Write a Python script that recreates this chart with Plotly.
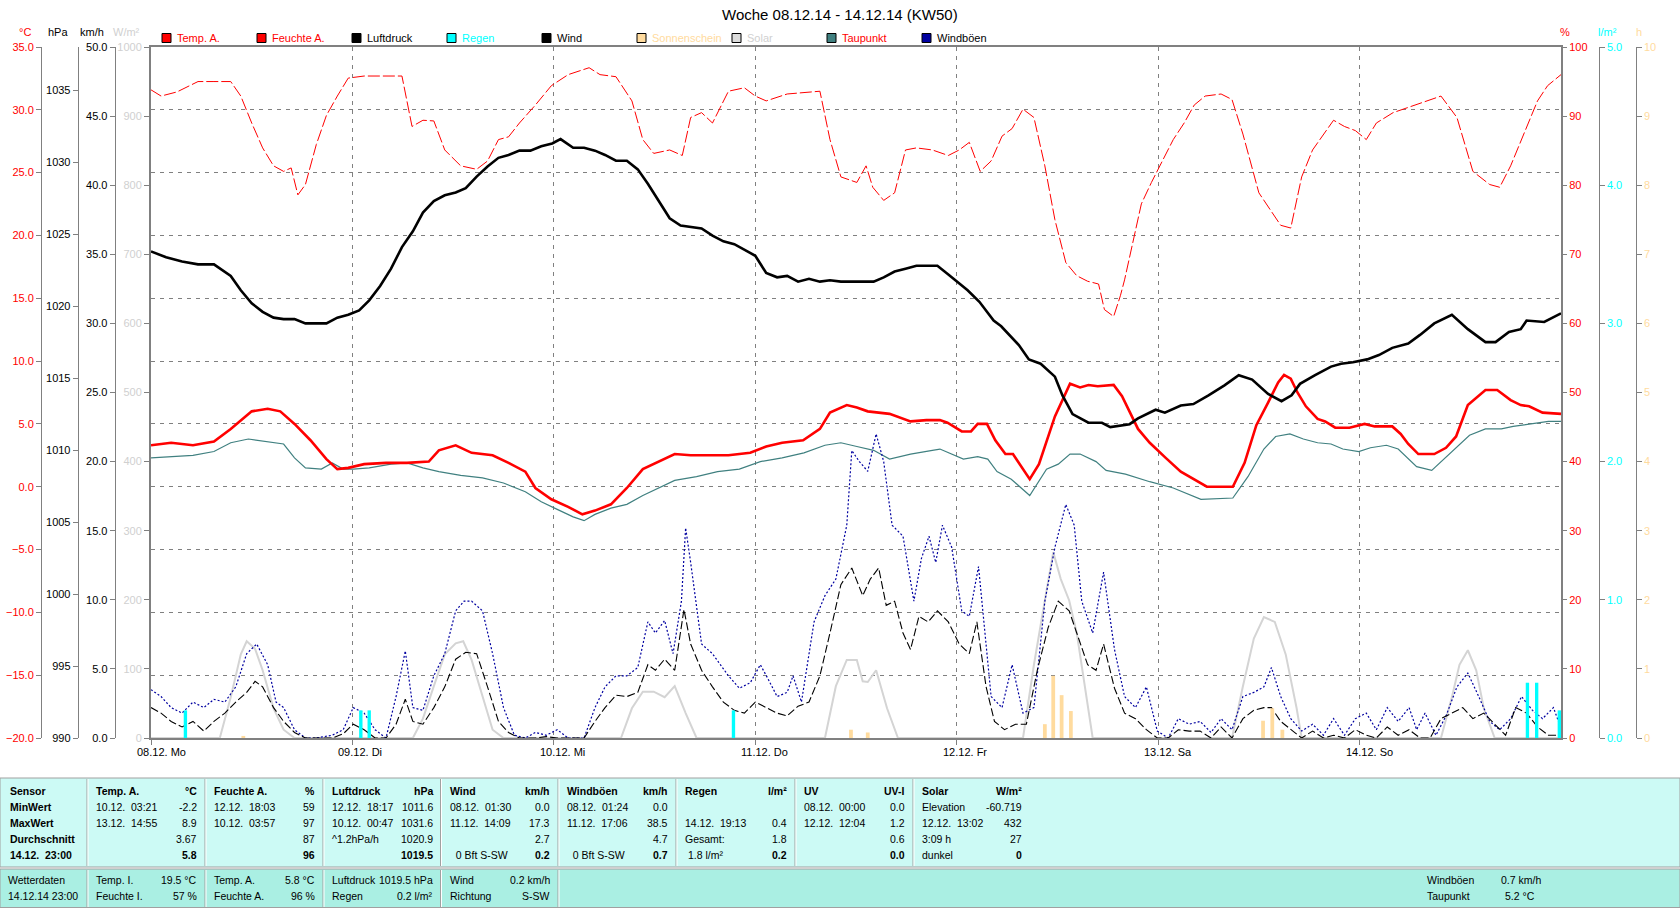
import plotly.graph_objects as go

W, H = 1680, 909

# ---------------- data (x = hours since 08.12.14 00:00) ----------------
TEMP_H = [0, 2.4, 5.0, 7.5, 9.5, 12.0, 13.9, 15.4, 17.1, 19.0, 20.9, 22.2, 23.5, 25.4, 28.0, 30.5,
          33.1, 34.3, 36.3, 38.2, 40.7, 42.6, 44.6, 45.8, 47.7, 49.7, 51.4, 52.9, 54.8, 56.7, 58.6,
          60.5, 62.4, 64.3, 66.3, 68.8, 71.4, 73.3, 75.2, 77.7, 79.7, 80.9, 82.9, 84.1, 85.4, 88.0,
          90.5, 92.4, 94.0, 94.9, 96.6, 97.7, 98.5, 99.6, 100.6, 101.8, 102.7, 104.7, 105.8, 107.7,
          109.5, 110.7, 111.7, 112.8, 114.7, 115.7, 117.6, 119.0, 120.9, 122.7, 125.8, 128.9, 130.3,
          131.7, 133.1, 134.3, 135.0, 135.8, 136.6, 137.6, 139.0, 139.9, 141.1, 142.8, 144.6, 145.8,
          147.9, 148.9, 149.8, 151.0, 152.9, 154.3, 155.5, 156.9, 159.0, 160.4, 162.0, 163.2, 164.2,
          165.8, 168.0]
TEMP_C = [3.3, 3.5, 3.3, 3.6, 4.6, 6.0, 6.2, 6.0, 5.0, 3.7, 2.2, 1.4, 1.5, 1.8, 1.9, 1.9,
          2.0, 2.9, 3.3, 2.7, 2.5, 1.9, 1.2, -0.1, -1.0, -1.6, -2.2, -1.9, -1.4, -0.1, 1.4,
          2.0, 2.6, 2.5, 2.5, 2.5, 2.7, 3.2, 3.5, 3.7, 4.6, 5.9, 6.5, 6.3, 6.0, 5.8,
          5.2, 5.3, 5.3, 5.1, 4.4, 4.4, 5.0, 5.0, 3.7, 2.6, 2.6, 0.6, 1.8, 5.6,
          8.2, 7.9, 8.1, 8.0, 8.1, 7.2, 4.6, 3.5, 2.3, 1.2, 0.0, 0.0, 1.9,
          4.9, 6.7, 8.3, 8.9, 8.6, 7.5, 6.4, 5.4, 5.2, 4.7, 4.7, 5.0, 4.8,
          4.8, 4.2, 3.4, 2.6, 2.6, 3.1, 4.0, 6.5, 7.7, 7.7, 6.9, 6.5, 6.4,
          5.9, 5.8]

DEW_H = [0, 2.4, 5.0, 7.5, 9.5, 11.6, 13.9, 15.8, 17.1, 18.4, 20.3, 21.6, 22.9, 24.1, 26.0, 28.6,
         30.5, 32.4, 34.3, 36.9, 39.5, 42.0, 44.6, 46.5, 48.4, 50.3, 51.6, 52.9, 54.8, 56.7, 58.6,
         60.5, 62.4, 65.0, 67.5, 70.1, 72.6, 75.2, 77.8, 80.3, 82.2, 84.1, 86.1, 88.0, 90.5, 93.1,
         94.0, 96.8, 98.5, 99.7, 100.8, 102.5, 104.7, 106.7, 108.1, 109.5, 110.7, 112.6, 113.8,
         116.1, 119.0, 121.8, 125.1, 128.9, 130.7, 132.6, 134.0, 135.7, 137.3, 139.0, 140.6, 142.0,
         143.9, 145.3, 147.2, 148.6, 150.8, 152.6, 154.8, 157.1, 159.0, 160.9, 162.3, 164.6, 166.5,
         168.0]
DEW_C = [2.3, 2.4, 2.5, 2.8, 3.5, 3.8, 3.6, 3.4, 2.3, 1.5, 1.4, 1.9, 1.4, 1.4, 1.5, 1.8,
         1.9, 1.5, 1.2, 0.9, 0.7, 0.3, -0.4, -1.2, -1.8, -2.4, -2.7, -2.2, -1.7, -1.4, -0.7,
         -0.1, 0.5, 0.8, 1.2, 1.4, 2.0, 2.3, 2.7, 3.3, 3.5, 3.2, 2.9, 2.2, 2.6, 2.9,
         3.0, 2.2, 2.4, 2.2, 1.2, 0.6, -0.7, 1.4, 1.8, 2.6, 2.6, 2.0, 1.3,
         1.0, 0.4, -0.1, -1.0, -0.9, 0.8, 3.0, 4.0, 4.2, 3.8, 3.5, 3.4, 3.0,
         2.8, 3.1, 3.3, 3.0, 1.6, 1.3, 2.7, 4.1, 4.6, 4.6, 4.8, 5.0, 5.2,
         5.2]

HUM_H = [0, 1.2, 3.1, 5.6, 7.5, 9.5, 10.7, 12.0, 13.3, 14.6, 15.8, 16.7, 17.5, 18.4, 19.7, 20.9,
         22.2, 23.5, 25.4, 27.3, 29.9, 31.1, 32.4, 33.7, 35.0, 36.9, 38.8, 40.1, 41.4, 42.6, 43.9,
         45.8, 47.7, 49.7, 52.2, 53.5, 55.4, 57.3, 58.6, 59.9, 61.8, 63.3, 64.3, 65.6, 66.9, 68.8,
         70.7, 72.0, 73.3, 75.8, 79.7, 80.9, 82.2, 84.1, 85.2, 86.0, 87.3, 88.6, 89.9, 91.2, 93.1,
         95.0, 96.3, 97.5, 98.8, 100.1, 101.4, 102.6, 103.9, 105.2, 106.5, 107.7, 109.0, 110.3,
         111.6, 112.9, 113.6, 114.7, 115.5, 116.0, 116.9, 118.0, 119.2, 120.5, 121.8, 123.1, 124.3,
         125.6, 127.5, 128.8, 130.1, 132.0, 133.3, 134.6, 135.8, 137.1, 138.4, 139.7, 140.9, 142.2,
         143.5, 144.8, 146.0, 148.0, 149.9, 151.8, 153.7, 155.6, 157.5, 159.5, 160.7, 162.0, 163.3,
         165.2, 166.4, 168.0]
HUM_P = [93.8, 92.9, 93.5, 95.0, 95.0, 95.0, 92.9, 89.0, 85.4, 82.8, 82.0, 82.5, 78.6, 80.1, 85.9, 90.1,
         92.9, 95.5, 95.8, 95.8, 95.8, 88.5, 89.4, 89.3, 85.1, 82.8, 82.3, 83.5, 86.6, 87.0, 89.0,
         91.6, 94.4, 96.0, 97.0, 96.0, 95.7, 92.2, 86.6, 84.6, 85.1, 84.3, 89.8, 90.5, 89.0, 93.6,
         94.1, 92.9, 92.2, 93.2, 93.6, 86.6, 81.2, 80.4, 82.8, 79.7, 77.8, 78.9, 85.1, 85.4, 85.1,
         84.3, 85.1, 86.2, 82.0, 83.5, 87.1, 88.2, 91.0, 89.8, 82.8, 75.0, 68.8, 66.9,
         66.1, 65.7, 62.0, 61.0, 64.0, 66.3, 71.1, 77.3, 80.4, 83.5, 86.6, 89.0, 91.6,
         92.9, 93.2, 92.4, 87.4, 78.9, 76.6, 74.2, 73.8, 81.2, 85.1, 87.4, 89.4, 88.5,
         87.9, 86.6, 89.0, 90.5, 91.3, 92.2, 92.9, 89.8, 82.0, 80.1, 79.7, 82.8, 86.6,
         92.2, 94.4, 96.0]

PRESS_H = [0, 1.8, 3.7, 5.6, 7.5, 9.5, 10.7, 12.0, 13.3, 14.6, 15.8, 17.1, 18.4, 19.7, 20.9, 22.2,
           23.5, 24.8, 26.0, 27.3, 28.6, 29.9, 31.2, 32.4, 33.7, 35.0, 36.3, 37.5, 38.8, 40.1, 41.4,
           42.6, 43.9, 45.2, 46.5, 47.8, 48.8, 50.3, 51.6, 52.9, 54.1, 55.4, 56.7, 58.0, 59.2, 60.5,
           61.8, 63.1, 64.3, 65.6, 66.9, 68.2, 69.5, 70.7, 72.0, 73.3, 74.6, 75.8, 77.1, 78.4, 79.7,
           80.9, 82.2, 83.5, 84.8, 86.1, 87.3, 88.6, 89.9, 91.2, 92.4, 93.7, 95.0, 97.3, 98.7, 100.4,
           101.3, 103.4, 104.6, 106.0, 107.7, 108.6, 109.8, 111.7, 113.3, 114.3, 116.6, 117.6, 119.7,
           120.8, 122.7, 124.2, 126.0, 127.9, 129.6, 131.2, 133.1, 134.7, 135.9, 136.9, 138.7, 140.6,
           141.8, 143.2, 144.9, 146.3, 147.9, 149.8, 151.2, 152.9, 155.0, 156.9, 159.0, 160.2, 161.8,
           163.2, 163.9, 166.0, 168.0]
PRESS_HPA = [1023.8, 1023.4, 1023.1, 1022.9, 1022.9, 1022.1, 1021.1, 1020.2, 1019.6, 1019.2, 1019.1,
             1019.1, 1018.8, 1018.8, 1018.8, 1019.2, 1019.4, 1019.7, 1020.4, 1021.4, 1022.6, 1024.1,
             1025.2, 1026.5, 1027.3, 1027.7, 1027.9, 1028.2, 1029.0, 1029.7, 1030.3, 1030.5, 1030.8,
             1030.8, 1031.1, 1031.3, 1031.6, 1031.0, 1031.0, 1030.8, 1030.5, 1030.1, 1030.1, 1029.5,
             1028.5, 1027.3, 1026.1, 1025.6, 1025.5, 1025.4, 1024.9, 1024.5, 1024.3, 1023.9, 1023.5,
             1022.3, 1022.0, 1022.1, 1021.7, 1021.9, 1021.7, 1021.8, 1021.7, 1021.7, 1021.7, 1021.7,
             1022.0, 1022.4, 1022.6, 1022.8, 1022.8, 1022.8, 1022.2, 1021.1, 1020.3, 1019.0, 1018.6,
             1017.3, 1016.3, 1016.0, 1015.1, 1013.8, 1012.5, 1011.9, 1011.9, 1011.6, 1011.8, 1012.2,
             1012.8, 1012.6, 1013.1, 1013.2, 1013.8, 1014.5, 1015.2, 1014.9, 1013.9, 1013.4, 1013.8,
             1014.6, 1015.2, 1015.8, 1016.0, 1016.1, 1016.3, 1016.6, 1017.1, 1017.4, 1018.0, 1018.8,
             1019.4, 1018.4, 1017.5, 1017.5, 1018.2, 1018.4, 1019.0, 1018.9, 1019.5]

WIND_H = [0, 1.2, 2.4, 3.7, 5.0, 6.3, 7.5, 8.8, 10.1, 11.4, 12.4, 13.3, 14.6, 15.8, 17.1, 18.4, 20.3,
          21.6, 22.9, 24.1, 25.4, 26.7, 28.0, 29.2, 30.3, 31.2, 32.4, 33.7, 35.0, 36.3, 37.5, 38.8,
          40.1, 41.4, 42.6, 43.9, 45.8, 47.1, 48.4, 51.6, 52.9, 54.1, 55.4, 56.7, 58.0, 59.2, 60.1,
          61.2, 62.4, 63.5, 64.3, 65.6, 66.9, 68.2, 69.5, 70.7, 72.0, 73.3, 74.6, 75.8, 77.1, 78.4,
          79.7, 80.9, 82.2, 83.5, 84.8, 85.7, 86.7, 87.6, 88.6, 89.6, 90.5, 91.5, 92.6, 93.7, 95.0,
          96.3, 97.5, 98.4, 99.5, 100.5, 101.7, 103.0, 104.3, 105.6, 106.9, 108.1, 109.4, 110.3,
          111.6, 112.6, 113.5, 114.8, 116.0, 117.3, 118.6, 119.9, 121.2, 122.4, 123.7, 125.0, 126.3,
          127.5, 128.8, 130.1, 131.4, 132.6, 133.5, 134.6, 135.8, 137.1, 138.4, 139.7, 140.9, 142.2,
          143.5, 144.8, 146.0, 147.3, 148.6, 149.9, 151.2, 152.4, 153.7, 155.0, 156.3, 157.5, 158.8,
          160.1, 161.4, 162.6, 163.9, 165.2, 166.5, 168.0]
WIND_KMH = [2.2, 1.8, 1.2, 0.8, 1.2, 0.5, 1.2, 1.8, 2.6, 3.3, 4.1, 3.7, 2.2, 1.2, 0.4, 0, 0,
            0, 0.3, 1.0, 0.6, 0, 0, 1.0, 2.8, 1.2, 1.0, 2.2, 3.7, 5.7, 6.2, 6.1,
            3.7, 1.2, 0.4, 0, 0, 0.1, 0, 0, 1.2, 2.2, 3.1, 3.0, 3.3, 5.3, 4.9,
            5.7, 4.9, 9.3, 6.8, 4.9, 3.7, 2.6, 2.0, 1.8, 2.6, 2.2, 1.8, 1.6, 2.3, 2.6,
            4.5, 7.6, 11.1, 12.3, 10.3, 11.5, 12.3, 9.6, 9.9, 7.6, 6.4, 8.8, 8.4, 9.2, 8.4,
            6.8, 6.1, 8.4, 3.7, 1.2, 0.6, 1.0, 1.0, 4.9, 8.0, 9.9, 9.2, 7.6,
            5.3, 4.9, 6.8, 3.6, 1.8, 1.4, 0.6, 0, 0, 0.6, 0.5, 0.5, 0,
            0.8, 0, 1.4, 2.0, 2.2, 2.2, 1.2, 0.6, 0, 0.5, 0, 0.2, 0,
            0.6, 0.2, 0, 0.8, 0.2, 0.6, 0, 0, 1.4, 1.8, 2.2, 1.4, 1.8,
            1.0, 0.2, 2.2, 1.8, 0.8, 0.2, 0.2]

GUST_H = [0, 1.2, 2.4, 3.7, 5.0, 6.3, 7.5, 8.8, 10.1, 11.4, 12.6, 13.9, 14.9, 15.8, 17.1, 18.4, 19.7,
          21.6, 22.9, 24.1, 25.4, 26.7, 28.0, 29.2, 30.3, 31.2, 32.4, 33.7, 35.0, 36.3, 37.3, 38.2,
          39.5, 40.7, 42.0, 43.3, 44.6, 45.8, 47.1, 48.4, 49.7, 51.6, 52.9, 54.1, 55.4, 56.7, 58.0,
          59.2, 60.1, 61.2, 62.2, 63.2, 63.7, 64.3, 65.6, 66.9, 68.8, 70.1, 71.4, 72.6, 73.5, 74.6,
          75.8, 76.5, 77.5, 79.0, 80.3, 81.6, 82.9, 83.5, 84.4, 85.4, 86.4, 87.3, 88.3, 89.6, 90.9,
          91.8, 92.7, 93.5, 94.3, 95.4, 96.6, 97.5, 98.6, 99.5, 100.1, 101.4, 102.6, 103.9, 105.2,
          106.5, 107.7, 109.0, 110.0, 110.9, 112.2, 113.5, 114.8, 116.0, 117.3, 118.6, 119.9, 121.2,
          122.4, 123.7, 125.0, 126.3, 127.5, 128.8, 130.1, 131.4, 132.6, 133.5, 134.6, 135.8, 137.1,
          138.4, 139.7, 140.9, 142.2, 143.5, 144.8, 146.0, 147.3, 148.6, 149.9, 150.8, 151.8, 153.1,
          154.3, 155.6, 156.9, 158.2, 159.5, 160.7, 162.0, 163.3, 164.6, 165.8, 167.1, 168.0]
GUST_KMH = [3.5, 3.0, 2.2, 1.8, 2.6, 2.2, 2.8, 2.6, 3.7, 6.1, 6.8, 5.3, 2.6, 2.2, 0.6, 0, 0,
            0.2, 0.6, 2.2, 1.8, 0.6, 0, 3.0, 6.3, 2.2, 2.0, 4.5, 6.1, 9.2, 9.9, 9.9,
            9.2, 6.1, 2.2, 0.2, 0, 0.4, 0.2, 0.6, 0, 0, 2.2, 3.7, 4.5, 4.5, 5.1,
            8.4, 7.6, 8.5, 6.1, 9.9, 15.2, 12.7, 6.8, 6.1, 4.5, 3.6, 4.0, 5.3, 4.3, 3.0,
            3.3, 4.5, 2.6, 8.4, 10.3, 11.5, 15.4, 20.8, 20.0, 19.3, 22.0, 20.0, 15.4, 14.6, 9.9,
            13.0, 14.6, 12.7, 15.4, 13.8, 9.2, 8.8, 12.4, 6.8, 3.0, 2.2, 5.3, 1.8, 2.2,
            9.9, 13.8, 16.9, 15.4, 9.9, 7.6, 12.0, 6.4, 3.0, 2.2, 3.7, 0.5, 0,
            1.4, 1.0, 1.2, 0.4, 1.4, 0.6, 3.0, 3.3, 3.7, 5.1, 3.0, 1.4, 0.5,
            1.0, 0.2, 1.4, 0.2, 1.4, 1.8, 0.6, 2.2, 1.2, 2.2, 0.6, 1.8, 0.2,
            1.6, 3.7, 4.7, 3.0, 1.2, 0.6, 1.4, 3.0, 2.0, 1.4, 2.2, 0.7]

SOLAR_H = [0, 8.2, 9.5, 10.7, 11.4, 12.4, 13.3, 14.6, 15.8, 17.1,
           31.2, 32.4, 33.7, 35.0, 36.3, 37.2, 38.2, 39.5, 40.7, 42.0,
           56.0, 57.3, 58.6, 59.9, 61.2, 62.4, 63.7, 65.0,
           80.3, 81.6, 82.9, 84.1, 84.8, 85.4, 86.4, 87.7, 89.0,
           103.9, 105.2, 106.5, 107.5, 108.4, 109.4, 110.3, 111.6, 112.2,
           128.8, 130.1, 131.4, 132.6, 133.9, 135.2, 136.5, 137.1,
           153.7, 155.0, 155.9, 156.9, 157.9, 158.8, 160.1, 168.0]
SOLAR_W = [0, 0, 59, 121, 140, 129, 98, 43, 12, 0,
           0, 28, 75, 121, 137, 140, 113, 59, 12, 0,
           0, 43, 67, 67, 59, 75, 36, 0,
           0, 75, 113, 113, 82, 81, 98, 43, 0,
           0, 106, 199, 269, 230, 199, 152, 43, 0,
           0, 75, 144, 175, 168, 121, 43, 0,
           0, 59, 106, 127, 98, 43, 0, 0]

RAIN_H = [4.1, 25.0, 26.0, 69.4, 164.0, 165.1, 167.8]
RAIN_L = [0.2, 0.2, 0.2, 0.2, 0.4, 0.4, 0.2]

SUN_H = [11.0, 83.4, 85.4, 106.5, 107.5, 108.5, 109.6, 132.5, 133.6, 134.8]
SUN_HOURS = [0.03, 0.12, 0.08, 0.2, 0.9, 0.62, 0.39, 0.25, 0.43, 0.12]

DAY_TICKS = [0, 24, 48, 72, 96, 120, 144]
DAY_LABELS = ["08.12. Mo", "09.12. Di", "10.12. Mi", "11.12. Do", "12.12. Fr", "13.12. Sa", "14.12. So"]

TITLE = "Woche 08.12.14 - 14.12.14 (KW50)"

# ---------------- styling ----------------
FONT = "Liberation Sans, Arial, sans-serif"
GRID = "#808080"
RED = "#FF0000"
CYAN = "#00FFFF"
SUNC = "#FFDB9E"
SOLC = "#D4D4D4"
TEAL = "#408080"
NAVY = "#0000A0"

PL, PR, PT, PB = 151, 1561, 47, 738


def fx(px):
    return px / W


def fy(py):
    return 1 - py / H


fig = go.Figure()
fig.add_trace(go.Scatter(x=SOLAR_H, y=SOLAR_W, mode="lines", name="Solar",
                         line=dict(color=SOLC, width=2), yaxis="y"))
fig.add_trace(go.Scatter(x=DEW_H, y=DEW_C, mode="lines", name="Taupunkt",
                         line=dict(color=TEAL, width=1.2), yaxis="y2"))
fig.add_trace(go.Scatter(x=TEMP_H, y=TEMP_C, mode="lines", name="Temp. A.",
                         line=dict(color=RED, width=2.6), yaxis="y2"))
fig.add_trace(go.Scatter(x=PRESS_H, y=PRESS_HPA, mode="lines", name="Luftdruck",
                         line=dict(color="#000000", width=2.6), yaxis="y3"))
fig.add_trace(go.Scatter(x=GUST_H, y=GUST_KMH, mode="lines", name="Windböen",
                         line=dict(color=NAVY, width=1.2, dash="2px,2px"), yaxis="y4"))
fig.add_trace(go.Scatter(x=WIND_H, y=WIND_KMH, mode="lines", name="Wind",
                         line=dict(color="#000000", width=1.1, dash="8px,3px"), yaxis="y4"))
fig.add_trace(go.Scatter(x=HUM_H, y=HUM_P, mode="lines", name="Feuchte A.",
                         line=dict(color=RED, width=1, dash="12px,3px"), yaxis="y5"))
fig.add_trace(go.Bar(x=RAIN_H, y=RAIN_L, width=0.4, name="Regen",
                     marker=dict(color=CYAN, line=dict(width=0)), yaxis="y6"))
fig.add_trace(go.Bar(x=SUN_H, y=SUN_HOURS, width=0.45, name="Sonnenschein",
                     marker=dict(color=SUNC, line=dict(width=0)), yaxis="y7"))


def yax(rng, color, **kw):
    d = dict(range=rng, showline=True, linecolor=GRID, linewidth=1, ticks="outside", ticklen=5,
             tickcolor=GRID, tickfont=dict(family=FONT, size=11, color=color), showgrid=False,
             zeroline=False, fixedrange=True, automargin=False)
    d.update(kw)
    return d


fig.update_layout(
    template="none",
    width=W, height=H, margin=dict(l=0, r=0, t=0, b=0, pad=0), autosize=False,
    paper_bgcolor="white", plot_bgcolor="white", showlegend=False, barmode="overlay",
    xaxis=dict(domain=[fx(PL), fx(PR)], range=[0, 168], tickvals=DAY_TICKS,
               showticklabels=False,
               ticks="outside", ticklen=5, tickcolor=GRID, showline=True, linecolor=GRID,
               linewidth=2, mirror=True, showgrid=True, gridcolor=GRID, griddash="4px,5px",
               gridwidth=1, zeroline=False, fixedrange=True, automargin=False),
    yaxis=yax([0, 1000], "#D0D0D0", domain=[fy(PB), fy(PT)], anchor="x", side="left",
              dtick=100, linewidth=2, mirror=True),
    yaxis2=yax([-20, 35], RED, overlaying="y", anchor="free", position=fx(41), side="left",
               dtick=5, tickformat=".1f", showgrid=True, gridcolor=GRID, griddash="4px,5px",
               gridwidth=1),
    yaxis3=yax([990, 1038], "black", overlaying="y", anchor="free", position=fx(77.7),
               side="left", tickvals=list(range(990, 1036, 5))),
    yaxis4=yax([0, 50], "black", overlaying="y", anchor="free", position=fx(114.7), side="left",
               dtick=5, tickformat=".1f"),
    yaxis5=yax([0, 100], RED, overlaying="y", anchor="x", side="right", dtick=10),
    yaxis6=yax([0, 5], CYAN, overlaying="y", anchor="free", position=fx(1598.7), side="right",
               dtick=1, tickformat=".1f"),
    yaxis7=yax([0, 10], SUNC, overlaying="y", anchor="free", position=fx(1635.7), side="right",
               dtick=1),
)

shapes = []
annots = []


def text(x, y, s, color="black", size=11, anchor="left", bold=False):
    if bold:
        s = "<b>" + s + "</b>"
    annots.append(dict(x=fx(x), y=fy(y), xref="paper", yref="paper", text=s, showarrow=False,
                       xanchor=anchor, yanchor="middle", borderpad=0,
                       font=dict(family=FONT, size=size, color=color)))


def rect(x0, y0, x1, y1, fill, line=None, lw=1):
    shapes.append(dict(type="rect", xref="paper", yref="paper", x0=fx(x0), x1=fx(x1),
                       y0=fy(y1), y1=fy(y0), fillcolor=fill,
                       line=dict(color=line or fill, width=lw if line else 0), layer="above"))


def vline(x, y0, y1, color, w=1):
    shapes.append(dict(type="line", xref="paper", yref="paper", x0=fx(x), x1=fx(x),
                       y0=fy(y0), y1=fy(y1), line=dict(color=color, width=w), layer="above"))


# day labels on the time axis (left-aligned just before each day tick)
for tv, lbl in zip(DAY_TICKS, DAY_LABELS):
    annots.append(dict(x=tv, y=fy(752), xref="x", yref="paper", text=lbl, showarrow=False,
                       xanchor="left", yanchor="middle", xshift=-15, borderpad=0,
                       font=dict(family=FONT, size=11, color="black")))

# title
text(840, 15, TITLE, size=15, anchor="center")

# axis units
for lbl, cx, col in [("°C", 25, RED), ("hPa", 58, "black"), ("km/h", 92, "black"),
                     ("W/m²", 127, "#D0D0D0"), ("%", 1565, RED), ("l/m²", 1607.5, CYAN),
                     ("h", 1638.5, SUNC)]:
    text(cx, 32, lbl, color=col, anchor="center")

# legend
LEG = [("Temp. A.", RED, RED), ("Feuchte A.", RED, RED), ("Luftdruck", "#000000", "black"),
       ("Regen", CYAN, CYAN), ("Wind", "#000000", "black"), ("Sonnenschein", SUNC, SUNC),
       ("Solar", "#DCDCDC", "#D0D0D0"), ("Taupunkt", TEAL, RED), ("Windböen", NAVY, "black")]
for i, (name, box, tcol) in enumerate(LEG):
    x0 = 162 + 95 * i
    rect(x0, 33.5, x0 + 9, 42.5, box, line="#000000", lw=1)
    text(x0 + 14, 38.5, name, color=tcol)

# ---------------- bottom tables ----------------
TOP_BG = "#CCFAF5"
LOW_BG = "#AAEFE3"
TS = 10.5
rect(0, 778, W, 867, TOP_BG, line="#A0A0A0", lw=1)
rect(0, 869, W, 907.5, LOW_BG, line="#A0A0A0", lw=1)
SEPS = [87, 205, 323, 440.5, 558, 676, 795, 913]
for sx in SEPS:
    vline(sx, 779, 866, "#A0A0A0")
    vline(sx + 1, 779, 866, "#FFFFFF")
for sx in SEPS[:5]:
    vline(sx, 870, 907, "#A0A0A0")
    vline(sx + 1, 870, 907, "#FFFFFF")

NB = "\u00a0"
ROW_Y = [791, 807, 823, 839, 855]
SENSOR_COL = ["Sensor", "MinWert", "MaxWert", "Durchschnitt", "14.12." + NB + NB + "23:00"]
for y, s in zip(ROW_Y, SENSOR_COL):
    text(9, y, s, bold=True, size=TS)

TABLE = [
    ("Temp. A.", "°C", [("10.12.  03:21", "-2.2"), ("13.12.  14:55", "8.9"), ("", "3.67"), ("", "*5.8")]),
    ("Feuchte A.", "%", [("12.12.  18:03", "59"), ("10.12.  03:57", "97"), ("", "87"), ("", "*96")]),
    ("Luftdruck", "hPa", [("12.12.  18:17", "1011.6"), ("10.12.  00:47", "1031.6"),
                          ("^1.2hPa/h", "1020.9"), ("", "*1019.5")]),
    ("Wind", "km/h", [("08.12.  01:30", "0.0"), ("11.12.  14:09", "17.3"), ("", "2.7"),
                      ("  0 Bft S-SW", "*0.2")]),
    ("Windböen", "km/h", [("08.12.  01:24", "0.0"), ("11.12.  17:06", "38.5"), ("", "4.7"),
                          ("  0 Bft S-SW", "*0.7")]),
    ("Regen", "l/m²", [("", ""), ("14.12.  19:13", "0.4"), ("Gesamt:", "1.8"), (" 1.8 l/m²", "*0.2")]),
    ("UV", "UV-I", [("08.12.  00:00", "0.0"), ("12.12.  12:04", "1.2"), ("", "0.6"), ("", "*0.0")]),
    ("Solar", "W/m²", [("Elevation", "-60.719"), ("12.12.  13:02", "432"), ("3:09 h", "27"),
                       ("dunkel", "*0")]),
]
COL_L = [87, 205, 323, 440.5, 558, 676, 795, 913]
COL_R = [205, 323, 440.5, 558, 676, 795, 913, 1030]
for (hl, hr, rows), cl, cr in zip(TABLE, COL_L, COL_R):
    text(cl + 8, ROW_Y[0], hl, bold=True, size=TS)
    text(cr - 7, ROW_Y[0], hr, bold=True, anchor="right", size=TS)
    for y, (l, r) in zip(ROW_Y[1:], rows):
        if l:
            text(cl + 8, y, l.replace(" ", NB), size=TS)
        if r:
            b = r.startswith("*")
            text(cr - 7, y, r.lstrip("*"), bold=b, anchor="right", size=TS)

LOW_Y = [880, 896]
text(7, LOW_Y[0], "Wetterdaten", size=TS)
text(7, LOW_Y[1], "14.12.14 23:00", size=TS)
LOW = [
    [("Temp. I.", "19.5 °C"), ("Feuchte I.", "57 %")],
    [("Temp. A.", "5.8 °C"), ("Feuchte A.", "96 %")],
    [("Luftdruck", "1019.5 hPa"), ("Regen", "0.2 l/m²")],
    [("Wind", "0.2 km/h"), ("Richtung", "S-SW")],
]
for rows, cl, cr in zip(LOW, COL_L[:4], COL_R[:4]):
    for y, (l, r) in zip(LOW_Y, rows):
        text(cl + 8, y, l, size=TS)
        text(cr - 7, y, r, anchor="right", size=TS)
text(1426, LOW_Y[0], "Windböen", size=TS)
text(1500, LOW_Y[0], "0.7 km/h", size=TS)
text(1426, LOW_Y[1], "Taupunkt", size=TS)
text(1504, LOW_Y[1], "5.2 °C", size=TS)

fig.update_layout(shapes=shapes, annotations=annots)

fig.write_html("out.html", config={"displayModeBar": False, "staticPlot": True},
               post_script="document.body.style.margin='0';document.body.style.overflow='hidden';")
